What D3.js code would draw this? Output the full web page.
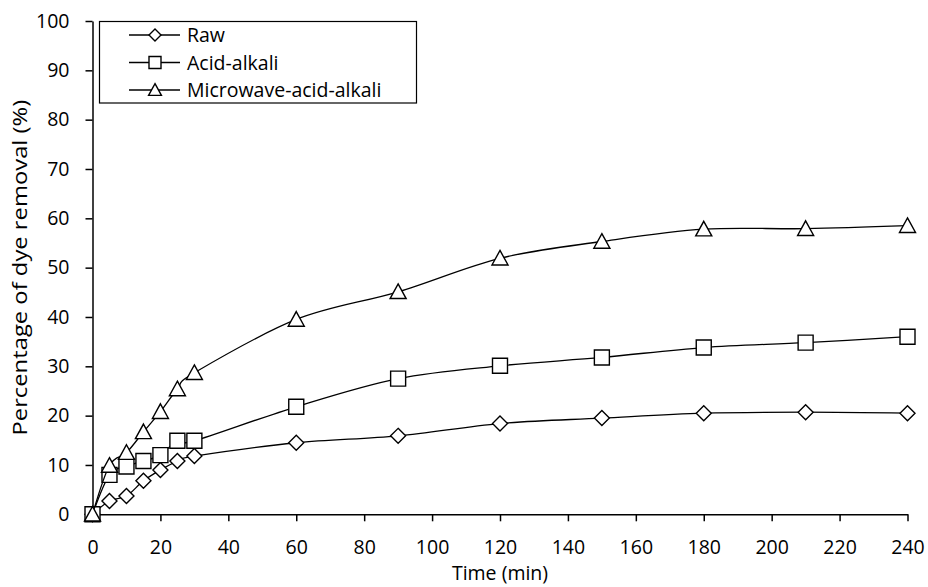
<!DOCTYPE html>
<html><head><meta charset="utf-8">
<script src="https://cdn.jsdelivr.net/npm/d3@7"></script>
<style>body{margin:0;background:#fff}svg{display:block}text{font-family:"Open Sans",sans-serif;fill:#000}</style>
</head><body><svg id="c" width="928" height="587"></svg>
<script>
const time = [0,5,10,15,20,25,30,60,90,120,150,180,210,240];
const raw = [0,2.7,3.7,6.8,9.0,10.8,11.8,14.5,15.9,18.4,19.5,20.5,20.7,20.5];
const acidAlkali = [0,8.0,9.7,10.8,12.0,14.9,14.9,21.8,27.5,30.1,31.8,33.8,34.8,36.0];
const microwave = [0,9.9,12.5,16.7,20.8,25.4,28.7,39.5,45.1,51.9,55.3,57.8,57.9,58.5];
const seriesNames = ["Raw","Acid-alkali","Microwave-acid-alkali"];
const symbols = ["diamond","square","triangle"];
const xTicks = d3.range(0,241,20);
const yTicks = d3.range(0,101,10);
const xTitle = "Time (min)";
const yTitle = "Percentage of dye removal (%)";

const FS = 19.5;
const svg = d3.select("#c");
const x = d3.scaleLinear().domain([0,240]).range([92.5,907.5]);
const y = d3.scaleLinear().domain([0,100]).range([514.3,21]);

// axes
const xa = svg.append("g").attr("transform",`translate(0,${y(0)})`)
  .call(d3.axisBottom(x).tickValues(xTicks).tickSize(7).tickSizeOuter(0).tickPadding(19));
const ya = svg.append("g").attr("transform",`translate(${x(0)},0)`)
  .call(d3.axisLeft(y).tickValues(yTicks).tickSize(7).tickSizeOuter(0).tickPadding(16));
[xa,ya].forEach(g=>{
  g.select(".domain").attr("stroke","#000").attr("stroke-width",1.5);
  g.selectAll(".tick line").attr("stroke","#000").attr("stroke-width",1.5);
  g.selectAll(".tick text").attr("font-size",FS).attr("font-family","'Open Sans',sans-serif").attr("fill","#000");
});
xa.selectAll(".tick text").attr("dy","0.71em").attr("y",0).attr("transform","translate(0,26)");

svg.append("text").attr("x",(x(0)+x(240))/2).attr("y",580).attr("text-anchor","middle").attr("font-size",FS).text(xTitle);
svg.append("text").attr("transform",`translate(27,${(y(0)+y(100))/2}) rotate(-90) scale(1.22,1)`).attr("text-anchor","middle").attr("font-size",FS).text(yTitle);

function marker(g, type, cx, cy, s){
  let p;
  if(type==="diamond") p = `M${cx},${cy-s} L${cx+s},${cy} L${cx},${cy+s} L${cx-s},${cy} Z`;
  else if(type==="square") p = `M${cx-s},${cy-s} H${cx+s} V${cy+s} H${cx-s} Z`;
  else p = `M${cx},${cy-s*1.05} L${cx+s*1.07},${cy+s*0.9} L${cx-s*1.07},${cy+s*0.9} Z`;
  g.append("path").attr("d",p).attr("fill","#fff").attr("stroke","#000").attr("stroke-width",1.4);
}

const data = [raw, acidAlkali, microwave];
const line = d3.line().x((d,i)=>x(time[i])).y(d=>y(d)).curve(d3.curveCardinal.tension(0));
data.forEach((vals,k)=>{
  const g = svg.append("g");
  g.append("path").attr("d",line(vals)).attr("fill","none").attr("stroke","#000").attr("stroke-width",1.3);
  vals.forEach((v,i)=>marker(g, symbols[k], x(time[i]), y(v), 7.5));
});

// legend
const lg = svg.append("g");
lg.append("rect").attr("x",99.5).attr("y",21.5).attr("width",317).attr("height",81.5).attr("fill","#fff").attr("stroke","#000").attr("stroke-width",1.2);
seriesNames.forEach((n,k)=>{
  const cy = 35 + k*27.5;
  lg.append("line").attr("x1",129).attr("x2",180).attr("y1",cy).attr("y2",cy).attr("stroke","#000").attr("stroke-width",1.3);
  marker(lg, symbols[k], 155, cy, 6);
  lg.append("text").attr("x",187).attr("y",cy).attr("dy","0.36em").attr("font-size",FS).text(n);
});
</script></body></html>
